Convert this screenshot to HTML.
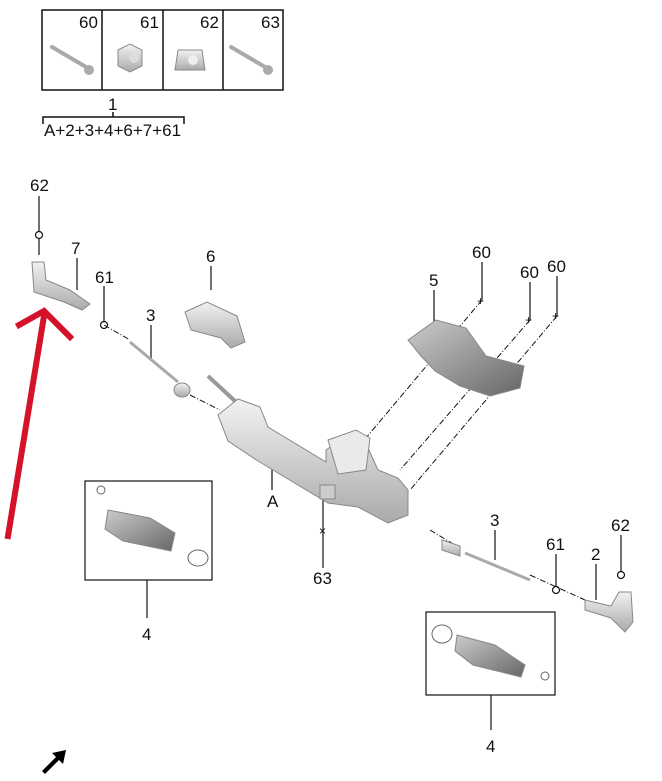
<!DOCTYPE html>
<html><head><style>body{margin:0;background:#fff}svg{display:block}text{font-family:"Liberation Sans",sans-serif;font-size:17px;fill:#111}</style></head><body>
<svg width="662" height="781" viewBox="0 0 662 781">
<defs><linearGradient id="g" x1="0" y1="0" x2="0" y2="1"><stop offset="0" stop-color="#f2f2f2"/><stop offset="1" stop-color="#aaa"/></linearGradient>
<linearGradient id="d" x1="0" y1="0" x2="1" y2="1"><stop offset="0" stop-color="#ccc"/><stop offset="1" stop-color="#666"/></linearGradient></defs>
<g stroke="#111" stroke-width="1.5" fill="none"><rect x="42" y="10" width="241" height="80"/><line x1="102" y1="10" x2="102" y2="90"/><line x1="163" y1="10" x2="163" y2="90"/><line x1="223" y1="10" x2="223" y2="90"/>
<path d="M43 124 V117 H184 V124 M113 117 V112"/></g>
<text x="79" y="28">60</text><text x="140" y="28">61</text><text x="200" y="28">62</text><text x="261" y="28">63</text>
<text x="108" y="110">1</text><text x="44" y="136">A+2+3+4+6+7+61</text>
<g stroke="#aaa" stroke-width="4" stroke-linecap="round"><line x1="52" y1="47" x2="86" y2="67"/><line x1="231" y1="47" x2="265" y2="67"/></g>
<circle cx="89" cy="70" r="5" fill="#aaa"/><circle cx="268" cy="70" r="5" fill="#aaa"/>
<polygon points="118,50 130,44 142,50 142,66 130,72 118,66" fill="url(#g)" stroke="#888"/><circle cx="134" cy="58" r="5" fill="#ddd"/>
<path d="M178 50 h24 l3 20 h-30 z" fill="url(#g)" stroke="#888"/><circle cx="193" cy="60" r="5" fill="#eee"/>
<g stroke="#111" stroke-width="1.2" fill="none">
<line x1="39" y1="196" x2="39" y2="231"/><circle cx="39" cy="235" r="3.5" fill="#fff"/><line x1="39" y1="239" x2="39" y2="255"/>
<line x1="77" y1="258" x2="77" y2="290"/>
<line x1="104" y1="286" x2="104" y2="321"/><circle cx="104" cy="325" r="3.5" fill="#fff"/>
<line x1="151" y1="325" x2="151" y2="358"/>
<line x1="211" y1="266" x2="211" y2="290"/>
<line x1="434" y1="290" x2="434" y2="322"/>
<line x1="482" y1="262" x2="482" y2="300"/><line x1="530" y1="282" x2="530" y2="320"/><line x1="557" y1="276" x2="557" y2="316"/>
<line x1="272" y1="490" x2="272" y2="462"/>
<line x1="323" y1="568" x2="323" y2="490"/>
<line x1="495" y1="530" x2="495" y2="560"/>
<line x1="556" y1="554" x2="556" y2="586"/><circle cx="556" cy="590" r="3.5" fill="#fff"/>
<line x1="596" y1="564" x2="596" y2="600"/>
<line x1="621" y1="535" x2="621" y2="571"/><circle cx="621" cy="575" r="3.5" fill="#fff"/>
<rect x="85" y="481" width="127" height="99"/><line x1="147" y1="580" x2="147" y2="618"/>
<rect x="426" y="612" width="129" height="83"/><line x1="491" y1="695" x2="491" y2="730"/>
</g>
<g stroke="#111" stroke-width="1" stroke-dasharray="6 2 1 2" fill="none">
<line x1="104" y1="325" x2="130" y2="340"/><line x1="190" y1="395" x2="220" y2="410"/>
<line x1="482" y1="300" x2="360" y2="445"/><line x1="530" y1="320" x2="400" y2="470"/><line x1="557" y1="316" x2="410" y2="490"/>
<line x1="323" y1="530" x2="323" y2="500"/><line x1="430" y1="530" x2="460" y2="548"/><line x1="530" y1="575" x2="585" y2="600"/>
</g>
<g><text x="477" y="305" style="font-size:12px">+</text><text x="525" y="324" style="font-size:12px">+</text><text x="552" y="320" style="font-size:12px">+</text><text x="319" y="535" style="font-size:12px">×</text></g>
<text x="30" y="191">62</text><text x="71" y="254">7</text><text x="95" y="283">61</text><text x="146" y="321">3</text><text x="206" y="262">6</text>
<text x="429" y="286">5</text><text x="472" y="258">60</text><text x="520" y="278">60</text><text x="547" y="272">60</text>
<text x="267" y="507">A</text><text x="313" y="584">63</text><text x="490" y="526">3</text><text x="546" y="550">61</text><text x="591" y="560">2</text><text x="611" y="531">62</text>
<text x="142" y="640">4</text><text x="486" y="752">4</text>
<g stroke="#888" stroke-width="1">
<path d="M32 262 l12 0 l2 18 l24 10 l20 14 l-8 6 l-18 -8 l-30 -10 z" fill="url(#g)"/>
<line x1="130" y1="342" x2="178" y2="382" stroke="#aaa" stroke-width="3"/>
<ellipse cx="182" cy="390" rx="8" ry="7" fill="url(#g)"/>
<path d="M185 312 l22 -10 l30 14 l8 26 l-14 6 l-10 -10 l-30 -8 z" fill="url(#g)"/>
<line x1="208" y1="376" x2="236" y2="402" stroke="#999" stroke-width="4"/>
<path d="M218 415 l20 -16 l22 8 l8 20 l58 35 l0 -12 l22 -16 l20 14 l10 22 l20 8 l10 12 l0 25 l-20 8 l-30 -16 l-30 -4 l-70 -42 l-30 -20 z" fill="url(#g)"/>
<path d="M328 440 l28 -10 l14 8 l-4 32 l-28 4 z" fill="#eaeaea"/>
<path d="M320 485 h15 v14 h-15 z" fill="#ccc"/>
<path d="M408 340 l28 -20 l30 8 l20 28 l38 10 l-4 22 l-30 8 l-30 -10 l-25 -15 l-14 -15 z" fill="url(#d)"/>
<path d="M442 540 l18 6 l0 10 l-18 -6 z" fill="url(#g)"/>
<line x1="465" y1="553" x2="530" y2="580" stroke="#aaa" stroke-width="3"/>
<path d="M585 600 l26 6 l8 -14 l12 0 l2 30 l-8 10 l-14 -14 l-26 -8 z" fill="url(#g)"/>
<path d="M108 510 l42 8 l25 15 l-4 18 l-48 -10 l-18 -12 z" fill="url(#d)"/>
<path d="M457 635 l38 10 l30 20 l-4 12 l-48 -12 l-18 -14 z" fill="url(#d)"/>
</g>
<g fill="none" stroke="#666"><circle cx="101" cy="490" r="4"/><ellipse cx="198" cy="558" rx="10" ry="8"/><ellipse cx="442" cy="634" rx="10" ry="9"/><circle cx="545" cy="676" r="4"/></g>
<g stroke="#d4122a" stroke-width="6" fill="none" stroke-linecap="square"><line x1="8" y1="536" x2="44" y2="316"/><polyline points="19,325 44,311 70,337"/></g>
<path d="M42 771 l14 -14 l-4 -4 l14 -3 l-3 14 l-4 -4 l-14 14 z" fill="#000"/>
</svg>
</body></html>
